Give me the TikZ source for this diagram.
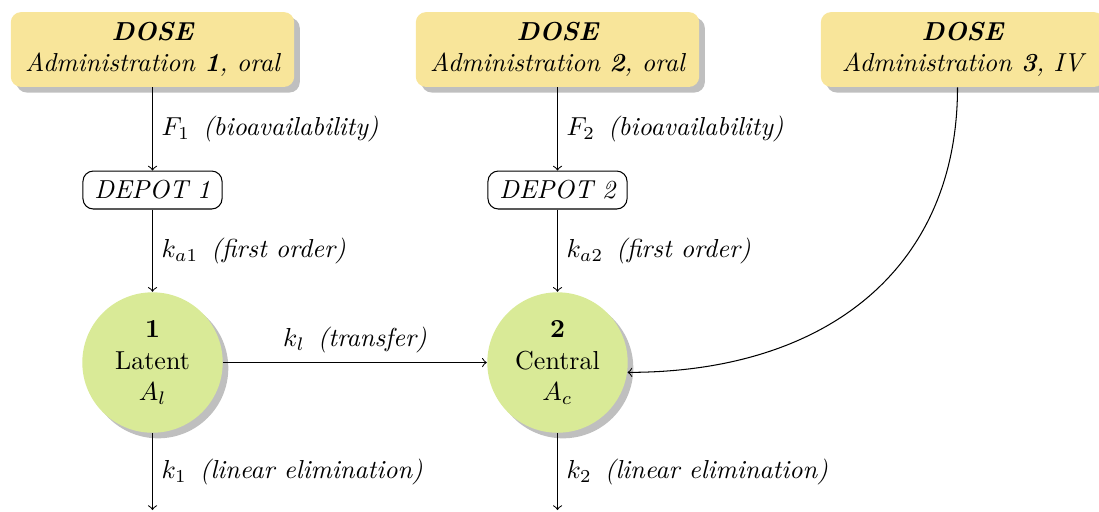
\documentclass[tikz,border=0pt]{standalone}
\usetikzlibrary{shadows,calc}
\definecolor{doseyellow}{RGB}{248,229,154}
\definecolor{compgreen}{RGB}{217,234,151}
\begin{document}
\begin{tikzpicture}[x=0.3846pt,y=0.3846pt,>=to,
  dosebox/.style={rectangle,rounded corners=4pt,fill=doseyellow,drop shadow,
    minimum width=109pt,minimum height=28.8pt,align=center,inner sep=2pt,font=\itshape},
  depotbox/.style={rectangle,rounded corners=4pt,draw,fill=white,
    minimum width=53.5pt,minimum height=14.6pt,inner sep=2pt,font=\itshape},
  comp/.style={circle,fill=compgreen,drop shadow,minimum size=54pt,
    align=center,inner sep=0pt},
  flow/.style={->,thin},
  lab/.style={right}]
\useasboundingbox (0,0) rectangle (1099,-511);
% dose boxes
\node[dosebox] (d1) at (152.5,-49.5) {\textbf{DOSE}\\Administration \textbf{1}, oral};
\node[dosebox] (d2) at (557.5,-49.5) {\textbf{DOSE}\\Administration \textbf{2}, oral};
\node[dosebox] (d3) at (962.5,-49.5) {\textbf{DOSE}\\Administration \textbf{3}, IV};
% depots
\node[depotbox] (p1) at (152.5,-190) {DEPOT 1};
\node[depotbox] (p2) at (557.5,-190) {DEPOT 2};
% compartments
\node[comp] (c1) at (152.5,-362.5) {\textbf{1}\\Latent\\$A_l$};
\node[comp] (c2) at (557.5,-362.5) {\textbf{2}\\Central\\$A_c$};
% free ends
\coordinate (e1) at (152.5,-510);
\coordinate (e2) at (557.5,-510);
\coordinate (d3o) at ($(d3.south)+(-5,0)$);
% connectors
\draw[flow] (d1) -- node[lab] {$F_1$\enspace\textit{(bioavailability)}} (p1);
\draw[flow] (d2) -- node[lab] {$F_2$\enspace\textit{(bioavailability)}} (p2);
\draw[flow] (p1) -- node[lab] {$k_{a1}$\enspace\textit{(first order)}} (c1);
\draw[flow] (p2) -- node[lab] {$k_{a2}$\enspace\textit{(first order)}} (c2);
\draw[flow] (c1) -- node[above] {$k_l$\enspace\textit{(transfer)}} (c2);
\draw[flow] (c1) -- node[lab] {$k_1$\enspace\textit{(linear elimination)}} (e1);
\draw[flow] (c2) -- node[lab] {$k_2$\enspace\textit{(linear elimination)}} (e2);
\draw[flow] (d3o) .. controls +(0,-180) and +(200,0) .. (c2.-8);
\end{tikzpicture}
\end{document}
